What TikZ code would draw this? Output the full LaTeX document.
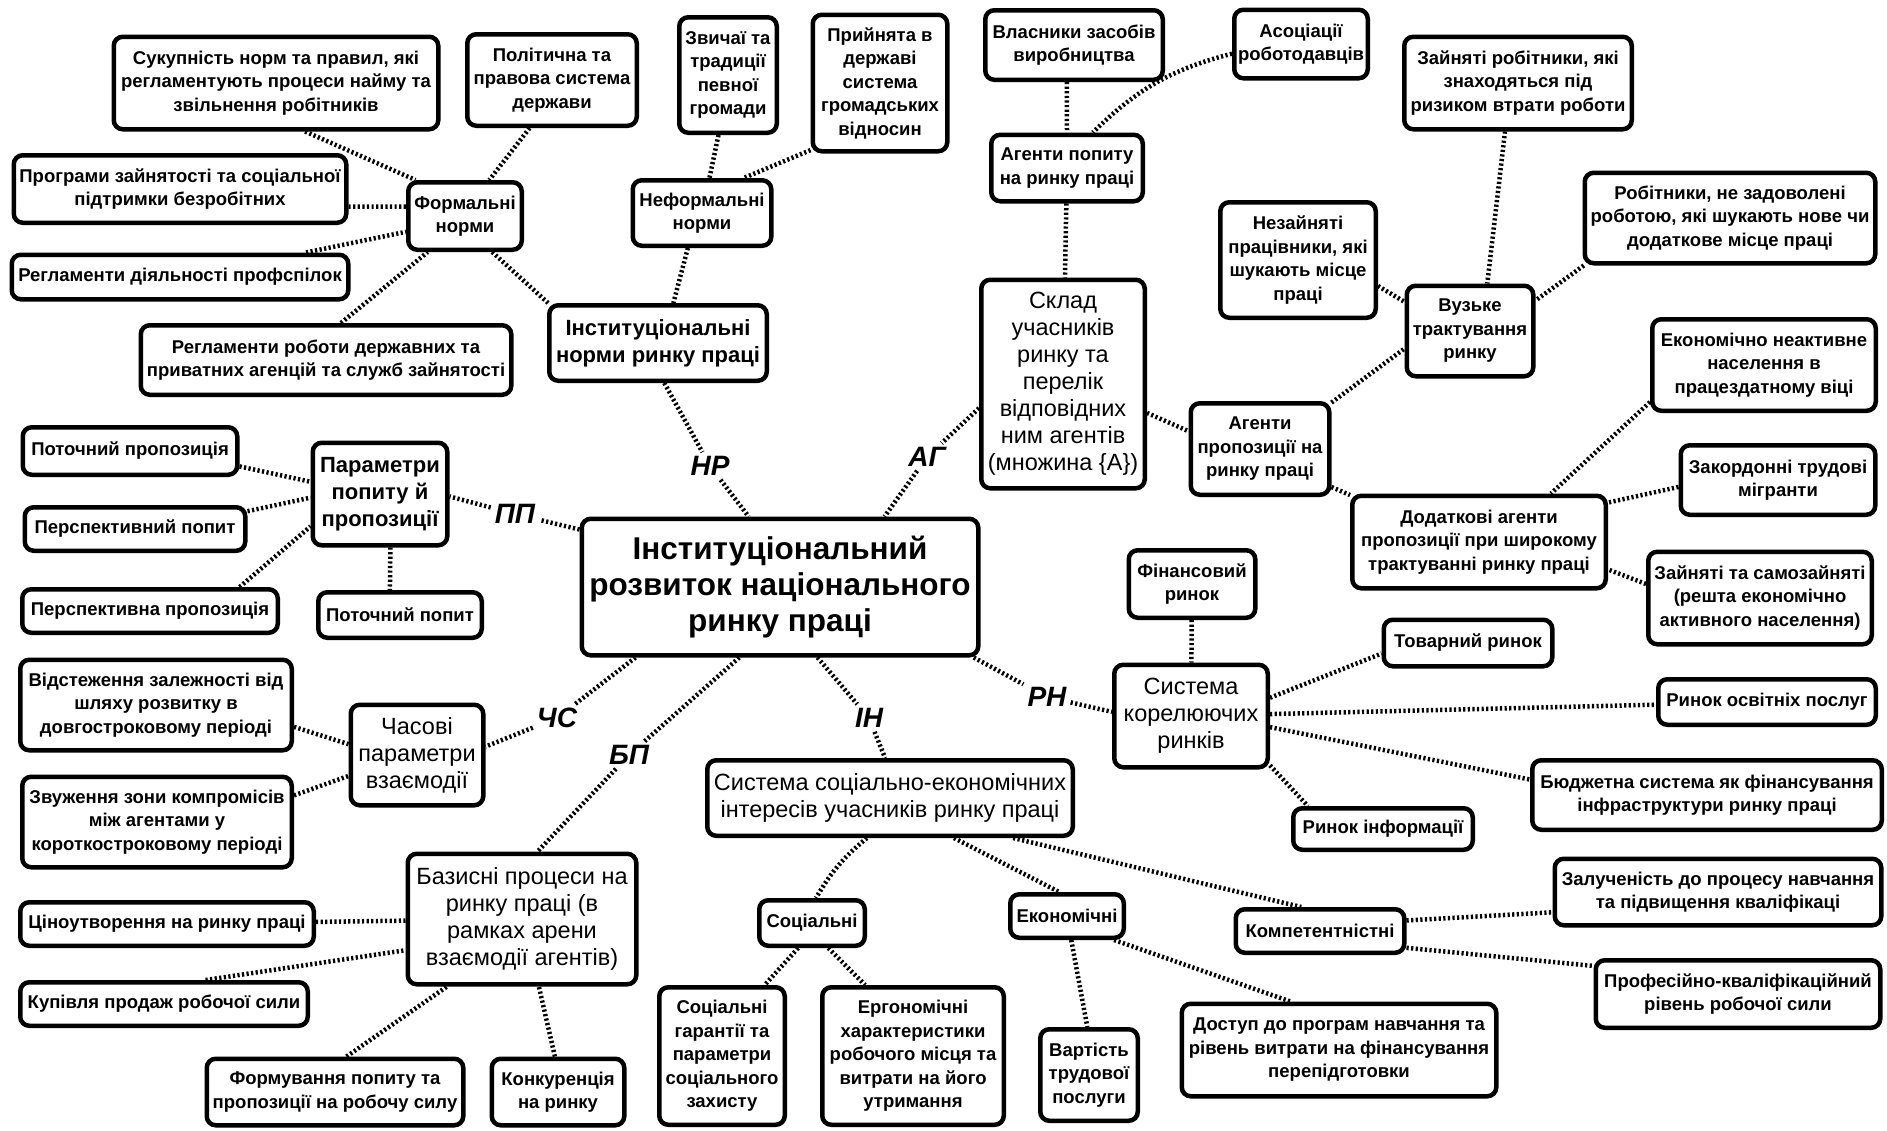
\documentclass[tikz,border=0pt]{standalone}
\usepackage{fontspec}
\newfontfamily\boxfam{Liberation Sans}
\newcommand\txtS{\boxfam\bfseries\fontsize{18.5}{23.5}\selectfont}
\newcommand\txtMB{\boxfam\bfseries\fontsize{22}{27}\selectfont}
\newcommand\txtMR{\boxfam\fontsize{23.5}{27}\selectfont}
\newcommand\txtL{\boxfam\bfseries\fontsize{31.5}{36}\selectfont}
\newcommand\txtLab{\boxfam\bfseries\itshape\fontsize{28}{30}\selectfont}
\tikzset{
  box/.style={draw, line width=4.5pt, rounded corners=9pt, fill=white,
    align=center, inner sep=2pt, font=\txtS},
  sz/.style 2 args={minimum width=#1pt-4.5pt, minimum height=#2pt-4.5pt},
  medb/.style={font=\txtMB},
  medr/.style={font=\txtMR},
  lab/.style={font=\txtLab, inner sep=4pt},
  link/.style={line width=4.5pt, dash pattern=on 2.2pt off 2.4pt},
}
\begin{document}
\begin{tikzpicture}[x=1pt,y=-1pt]
\fill[white] (0,0) rectangle (1887,1130);
\useasboundingbox (0,0) rectangle (1887,1130);

% central node
\node[box, sz={401}{141}, font=\txtL] (center) at (780,587)
  {Інституціональний\\розвиток національного\\ринку праці};

% branch labels
\node[lab] (NR) at (710,466) {НР};
\node[lab] (AG) at (927,457) {АГ};
\node[lab] (PP) at (515,514) {ПП};
\node[lab] (CS) at (557,718) {ЧС};
\node[lab] (BP) at (629,755) {БП};
\node[lab] (IN) at (869,718) {ІН};
\node[lab] (RN) at (1047,697) {РН};

% institutional norms
\node[box, sz={222}{80}, medb] (inst) at (658,343) {Інституціональні\\норми ринку праці};
\node[box, sz={118}{72}] (formal) at (465,216) {Формальні\\норми};
\node[box, sz={143}{70}] (neform) at (702,213) {Неформальні\\норми};
\node[box, sz={329}{97}] (suk) at (276,83) {Сукупність норм та правил, які\\регламентують процеси найму та\\звільнення робітників};
\node[box, sz={174}{96}] (pol) at (552,80) {Політична та\\правова система\\держави};
\node[box, sz={337}{72}] (prog) at (180,189) {Програми зайнятості та соціальної\\підтримки безробітних};
\node[box, sz={341}{49}] (prof) at (180,277) {Регламенти діяльності профспілок};
\node[box, sz={375}{74}] (regl) at (326,360) {Регламенти роботи державних та\\приватних агенцій та служб зайнятості};
\node[box, sz={102}{120}] (zvych) at (728,75) {Звичаї та\\традиції\\певної\\громади};
\node[box, sz={139}{141}] (pryin) at (880,83) {Прийнята в\\державі\\система\\громадських\\відносин};

% agents
\node[box, sz={168}{213}, medr] (sklad) at (1063,384) {Склад\\учасників\\ринку та\\перелік\\відповідних\\ним агентів\\(множина \{А\})};
\node[box, sz={156}{71}] (agdem) at (1067,168) {Агенти попиту\\на ринку праці};
\node[box, sz={182}{74}] (vlas) at (1074,45) {Власники засобів\\виробництва};
\node[box, sz={138}{73}] (asoc) at (1301,44) {Асоціації\\роботодавців};
\node[box, sz={143}{96}] (agsup) at (1260,449) {Агенти\\пропозиції на\\ринку праці};
\node[box, sz={131}{95}] (vuzke) at (1470,331) {Вузьке\\трактування\\ринку};
\node[box, sz={232}{97}] (zain) at (1518,83) {Зайняті робітники, які\\знаходяться під\\ризиком втрати роботи};
\node[box, sz={295}{95}] (robit) at (1730,218) {Робітники, не задоволені\\роботою, які шукають нове чи\\додаткове місце праці};
\node[box, sz={160}{120}] (nezain) at (1298,260) {Незайняті\\працівники, які\\шукають місце\\праці};
\node[box, sz={258}{97}] (dodat) at (1479,542) {Додаткові агенти\\пропозиції при широкому\\трактуванні ринку праці};
\node[box, sz={228}{96}] (ekneakt) at (1764,365) {Економічно неактивне\\населення в\\працездатному віці};
\node[box, sz={199}{74}] (zakord) at (1778,480) {Закордонні трудові\\мігранти};
\node[box, sz={228}{97}] (samoz) at (1760,598) {Зайняті та самозайняті\\(решта економічно\\активного населення)};

% demand and supply parameters
\node[box, sz={139}{107}, medb] (param) at (380,494) {Параметри\\попиту й\\пропозиції};
\node[box, sz={219}{52}] (potprop) at (130,451) {Поточний пропозиція};
\node[box, sz={225}{48}] (perpop) at (135,529) {Перспективний попит};
\node[box, sz={260}{48}] (perprop) at (150,611) {Перспективна пропозиція};
\node[box, sz={168}{50}] (potpop) at (400,615) {Поточний попит};

% time parameters
\node[box, sz={137}{105}, medr] (chas) at (417,755) {Часові\\параметри\\взаємодії};
\node[box, sz={276}{95}] (vidst) at (156,705) {Відстеження залежності від\\шляху розвитку в\\довгостроковому періоді};
\node[box, sz={274}{95}] (zvuzh) at (157,822) {Звуження зони компромісів\\між агентами у\\короткостроковому періоді};

% basic processes
\node[box, sz={233}{135}, medr] (bazys) at (522,919) {Базисні процеси на\\ринку праці (в\\рамках арени\\взаємодії агентів)};
\node[box, sz={298}{48}] (tsino) at (167,924) {Ціноутворення на ринку праці};
\node[box, sz={292}{48}] (kupivl) at (164,1004) {Купівля продаж робочої сили};
\node[box, sz={261}{71}] (formuv) at (335,1092) {Формування попиту та\\пропозиції на робочу силу};
\node[box, sz={137}{71}] (konk) at (558,1092) {Конкуренція\\на ринку};

% interests
\node[box, sz={370}{80}, medr] (socekon) at (890,798) {Система соціально-економічних\\інтересів учасників ринку праці};
\node[box, sz={110}{50}] (social) at (812,923) {Соціальні};
\node[box, sz={118}{48}] (ekonom) at (1067,916) {Економічні};
\node[box, sz={173}{48}] (kompet) at (1320,931) {Компетентністні};
\node[box, sz={130}{142}] (garant) at (722,1056) {Соціальні\\гарантії та\\параметри\\соціального\\захисту};
\node[box, sz={186}{142}] (ergon) at (913,1056) {Ергономічні\\характеристики\\робочого місця та\\витрати на його\\утримання};
\node[box, sz={102}{96}] (vart) at (1089,1075) {Вартість\\трудової\\послуги};
\node[box, sz={319}{97}] (dostup) at (1339,1050) {Доступ до програм навчання та\\рівень витрати на фінансування\\перепідготовки};
\node[box, sz={331}{71}] (zaluch) at (1718,892) {Залученість до процесу навчання\\та підвищення кваліфікаці};
\node[box, sz={289}{72}] (profes) at (1738,994) {Професійно-кваліфікаційний\\рівень робочої сили};

% correlated markets
\node[box, sz={158}{107}, medr] (syskor) at (1191,716) {Система\\корелюючих\\ринків};
\node[box, sz={131}{72}] (fin) at (1192,584) {Фінансовий\\ринок};
\node[box, sz={173}{51}] (tovar) at (1468,643) {Товарний ринок};
\node[box, sz={222}{50}] (osvit) at (1767,702) {Ринок освітніх послуг};
\node[box, sz={354}{74}] (budzh) at (1707,795) {Бюджетна система як фінансування\\інфраструктури ринку праці};
\node[box, sz={184}{46}] (inform) at (1383,829) {Ринок інформації};

% connectors: institutional norms
\draw[link] (suk.-59) -- (formal.144);
\draw[link] (pol.-115) -- (formal.56);
\draw[link] (prog.-6) -- (formal.171);
\draw[link] (prof.11) -- (formal.-165);
\draw[link] (regl.68) -- (formal.-136);
\draw[link] (formal.-53) -- (inst.160);
\draw[link] (zvych.-99) -- (neform.78);
\draw[link] (pryin.-136) -- (neform.40);
\draw[link] (neform.-112) -- (inst.69);
\draw[link] (inst.-81) -- (NR);
\draw[link] (NR) -- (center.114);

% connectors: agents
\draw[link] (vlas.-101) -- (agdem.90);
\draw[link] (asoc.-172) to[bend right=15] (agdem.54);
\draw[link] (agdem) -- (sklad);
\draw[link] (sklad.-164) -- (AG);
\draw[link] (AG) -- (center.34);
\draw[link] (sklad.-19) -- (agsup.166);
\draw[link] (agsup.33) -- (vuzke.-165);
\draw[link] (agsup.-28) -- (dodat.160);
\draw[link] (nezain.-18) -- (vuzke.156);
\draw[link] (zain.-105) -- (vuzke.70);
\draw[link] (robit.-162) -- (vuzke.25);
\draw[link] (ekneakt.-162) -- (dodat.34);
\draw[link] (zakord.-176) -- (dodat.17);
\draw[link] (samoz.173) -- (dodat.-12);

% connectors: left branches
\draw[link] (center.164) -- (PP);
\draw[link] (PP) -- (param.-2);
\draw[link] (potprop.-8) -- (param.170);
\draw[link] (perpop.9) -- (param.-177);
\draw[link] (perprop.15) -- (param.-155);
\draw[link] (param.-79) -- (potpop.112);
\draw[link] (center.-154) -- (CS);
\draw[link] (CS) -- (chas.7);
\draw[link] (vidst.-9) -- (chas.171);
\draw[link] (zvuzh.11) -- (chas.-163);
\draw[link] (center.-120) -- (BP);
\draw[link] (BP) -- (bazys.77);
\draw[link] (tsino) -- (bazys);
\draw[link] (kupivl.30) -- (bazys.-165);
\draw[link] (formuv.72) -- (bazys.-138);
\draw[link] (konk.95) -- (bazys.-76);

% connectors: interests
\draw[link] (center.-62) -- (IN);
\draw[link] (IN) -- (socekon.97);
\draw[link] (socekon.-120) to[bend right=10] (social.81);
\draw[link] (socekon.-32) -- (ekonom.108);
\draw[link] (socekon.-18) -- (kompet.128);
\draw[link] (social.-119) -- (garant.59);
\draw[link] (social.-57) -- (ergon.124);
\draw[link] (ekonom.-80) -- (vart.92);
\draw[link] (ekonom.-27) -- (dostup.135);
\draw[link] (kompet.7) -- (zaluch.-173);
\draw[link] (kompet.-11) -- (profes.169);

% connectors: correlated markets
\draw[link] (center.-20) -- (RN);
\draw[link] (RN) -- (syskor.177);
\draw[link] (fin) -- (syskor);
\draw[link] (syskor.13) -- (tovar.-173);
\draw[link] (syskor) -- (osvit);
\draw[link] (syskor.-8) -- (budzh.175);
\draw[link] (syskor.-32) -- (inform.163);
\end{tikzpicture}
\end{document}
